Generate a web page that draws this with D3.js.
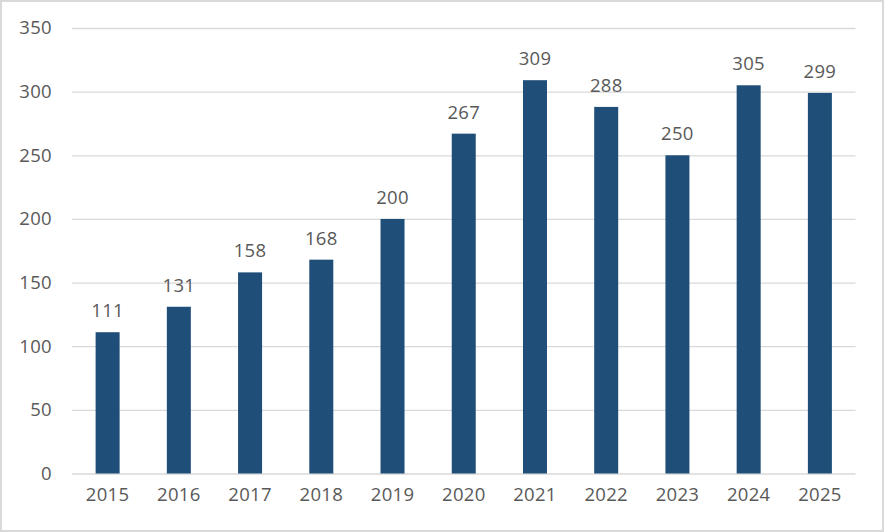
<!DOCTYPE html>
<html>
<head>
<meta charset="utf-8">
<script src="https://d3js.org/d3.v7.min.js"></script>
<style>
  body { margin: 0; background: #fff; }
  svg text { font-family: "Open Sans", "Liberation Sans", sans-serif; fill: #595959; }
</style>
</head>
<body>
<svg id="chart" width="884" height="532"></svg>
<script>
const years = ["2015", "2016", "2017", "2018", "2019", "2020", "2021", "2022", "2023", "2024", "2025"];
const counts = [111, 131, 158, 168, 200, 267, 309, 288, 250, 305, 299];
const yTicks = [0, 50, 100, 150, 200, 250, 300, 350];

const svg = d3.select("#chart"),
    margin = { top: 28, right: 28.5, bottom: 58.5, left: 72 },
    width = +svg.attr("width") - margin.left - margin.right,
    height = +svg.attr("height") - margin.top - margin.bottom;

// outer border
svg.append("rect")
    .attr("x", 1).attr("y", 1)
    .attr("width", 882).attr("height", 530)
    .attr("fill", "#fff")
    .attr("stroke", "#d9d9d9")
    .attr("stroke-width", 2);

const x = d3.scaleBand().domain(years).range([0, width]).paddingInner(0.663).paddingOuter(0.3315);
const y = d3.scaleLinear().domain([0, 350]).range([height, 0]);

const g = svg.append("g")
    .attr("transform", "translate(" + margin.left + "," + margin.top + ")");

// gridlines
g.append("g")
    .call(d3.axisLeft(y).tickValues(yTicks).tickSize(-width).tickFormat(""))
    .call(a => a.select(".domain").remove())
    .call(a => a.selectAll("line").attr("stroke", "#d9d9d9").attr("stroke-width", 1.3));

// y labels
g.append("g")
    .call(d3.axisLeft(y).tickValues(yTicks).tickSize(0).tickPadding(20))
    .call(a => a.select(".domain").remove())
    .call(a => a.selectAll("text").style("font-size", "18.5px").style("letter-spacing", "0.3px"));

g.selectAll(".bar")
    .data(counts)
    .enter().append("rect")
    .attr("class", "bar")
    .attr("x", (d, i) => x(years[i]))
    .attr("y", d => y(d))
    .attr("width", x.bandwidth())
    .attr("height", d => height - y(d))
    .attr("fill", "#1f4e79");

g.selectAll(".val")
    .data(counts)
    .enter().append("text")
    .attr("class", "val")
    .attr("x", (d, i) => x(years[i]) + x.bandwidth() / 2)
    .attr("y", d => y(d) - 15)
    .attr("text-anchor", "middle")
    .style("font-size", "18.5px")
    .style("letter-spacing", "0.3px")
    .text(d => d);

// x labels
g.append("g")
    .attr("transform", "translate(0," + height + ")")
    .call(d3.axisBottom(x).tickSize(0).tickPadding(14))
    .call(a => a.select(".domain").remove())
    .call(a => a.selectAll("text").style("font-size", "18.5px").style("letter-spacing", "0.3px"));
</script>
</body>
</html>
